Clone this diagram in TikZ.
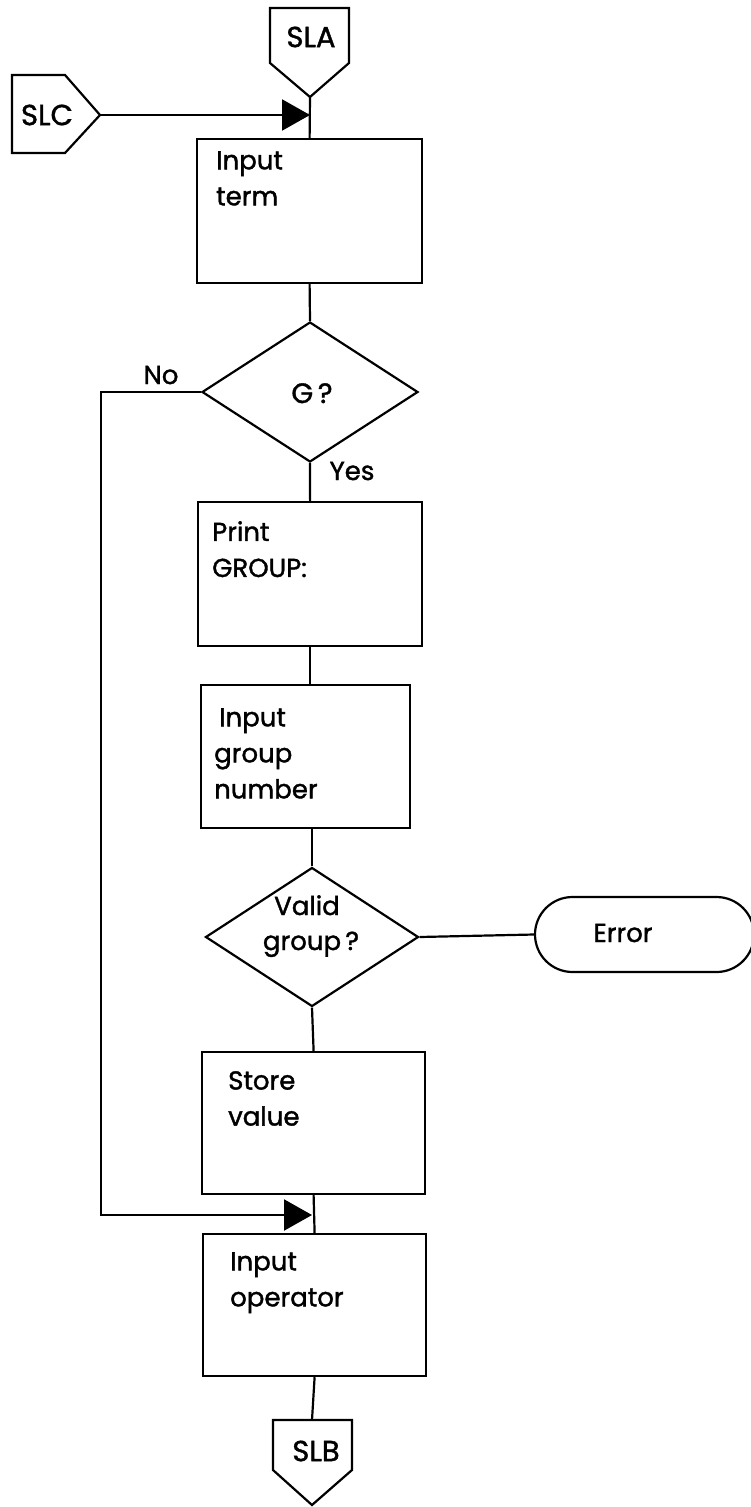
\documentclass[tikz,border=0pt]{standalone}
\usepackage{fontspec}
\setmainfont{Poppins}[FakeBold=1.4]
\usetikzlibrary{arrows.meta,shapes.geometric,shapes.misc}

\newcommand{\bodyfont}{\fontsize{26}{36}\selectfont}
\newcommand{\tagfont}{\fontsize{29}{32}\selectfont}

\tikzset{
  flow/.style={line width=2.2pt},
  proc/.style={draw, line width=2.2pt, anchor=north west, inner sep=0pt},
  dec/.style={draw, diamond, line width=2.2pt, inner sep=0pt},
  term/.style={draw, rounded rectangle, line width=2.2pt, inner sep=0pt},
  txt/.style={inner sep=0pt, align=left, anchor=north west, font=\bodyfont},
  ctxt/.style={inner sep=0pt, anchor=base, font=\bodyfont},
  tag/.style={inner sep=0pt, font=\tagfont},
  mergearrow/.style={-{Triangle[length=28pt,width=31pt]}},
}

\begin{document}
\begin{tikzpicture}[x=1pt,y=-1pt]
\useasboundingbox (0,0) rectangle (751,1507);

% off-page connectors
\draw[flow] (270,8) -- (349,8) -- (349,63) -- (310,97) -- (270,63) -- cycle;
\node[tag] (sla) at (311,37) {SLA};
\coordinate (slatip) at (310,97);

\draw[flow] (12,75) -- (65,75) -- (100,115) -- (65,153) -- (12,153) -- cycle;
\node[tag] (slc) at (47,115) {SLC};
\coordinate (slctip) at (100,115);

\draw[flow] (273,1420) -- (352,1420) -- (352,1470) -- (312,1505) -- (273,1470) -- cycle;
\node[tag] (slb) at (316,1451) {SLB};
\coordinate (slbtop) at (312,1420);

% process boxes
\node[proc, minimum width=225pt, minimum height=144pt] (b1) at (196,138) {};
\node[txt] (t1) at (216,151) {Input\\term};

\node[proc, minimum width=224pt, minimum height=144pt] (b2) at (197,501) {};
\node[txt] (t2) at (212,521) {Print\\GROUP:};

\node[proc, minimum width=209pt, minimum height=143pt] (b3) at (200,684) {};
\node[txt] (t3) at (214,708) {\hspace{5pt}Input\\group\\number};

\node[proc, minimum width=223pt, minimum height=142pt] (b4) at (201,1051) {};
\node[txt] (t4) at (228,1071) {Store\\value};

\node[proc, minimum width=223pt, minimum height=142pt] (b5) at (202,1233) {};
\node[txt] (t5) at (230,1252) {Input\\operator};

% decisions
\node[dec, minimum width=216pt, minimum height=140pt] (d1) at (310,392) {};
\node[ctxt, font=\fontsize{28}{32}\selectfont] (q1) at (312,403) {G\,?};

\node[dec, minimum width=213pt, minimum height=139pt] (d2) at (312,937) {};
\node[ctxt] (q2a) at (307,915) {Valid};
\node[ctxt] (q2b) at (311,950) {group\,?};

% terminal
\node[term, minimum width=219pt, minimum height=75pt] (err) at (644.5,934.5) {};
\node[ctxt] (errt) at (623,942) {Error};

% branch labels
\node[ctxt] (no) at (161,384) {No};
\node[ctxt] (yes) at (352,480) {Yes};

% junction points
\coordinate (j1) at (310,115);
\coordinate (j2) at (312,1215);
\coordinate (lc) at (101,1215);

% connectors
\draw[flow] (slatip) -- (b1.north);
\draw[flow, mergearrow] (slctip) -- (j1);
\draw[flow] (b1.south) -- (d1.north);
\draw[flow] (d1.south) -- (b2.north);
\draw[flow] (b2.south) -- (b2.south |- b3.north);
\draw[flow] (d2.north) -- (d2.north |- b3.south);
\draw[flow] (d2.east) -- (err.west);
\draw[flow] (d2.south) -- (b4.north);
\draw[flow] (b4.south) -- (b5.north);
\draw[flow, mergearrow] (d1.west) -| (lc) -- (j2);
\draw[flow] (b5.south) -- (slbtop);
\end{tikzpicture}
\end{document}
